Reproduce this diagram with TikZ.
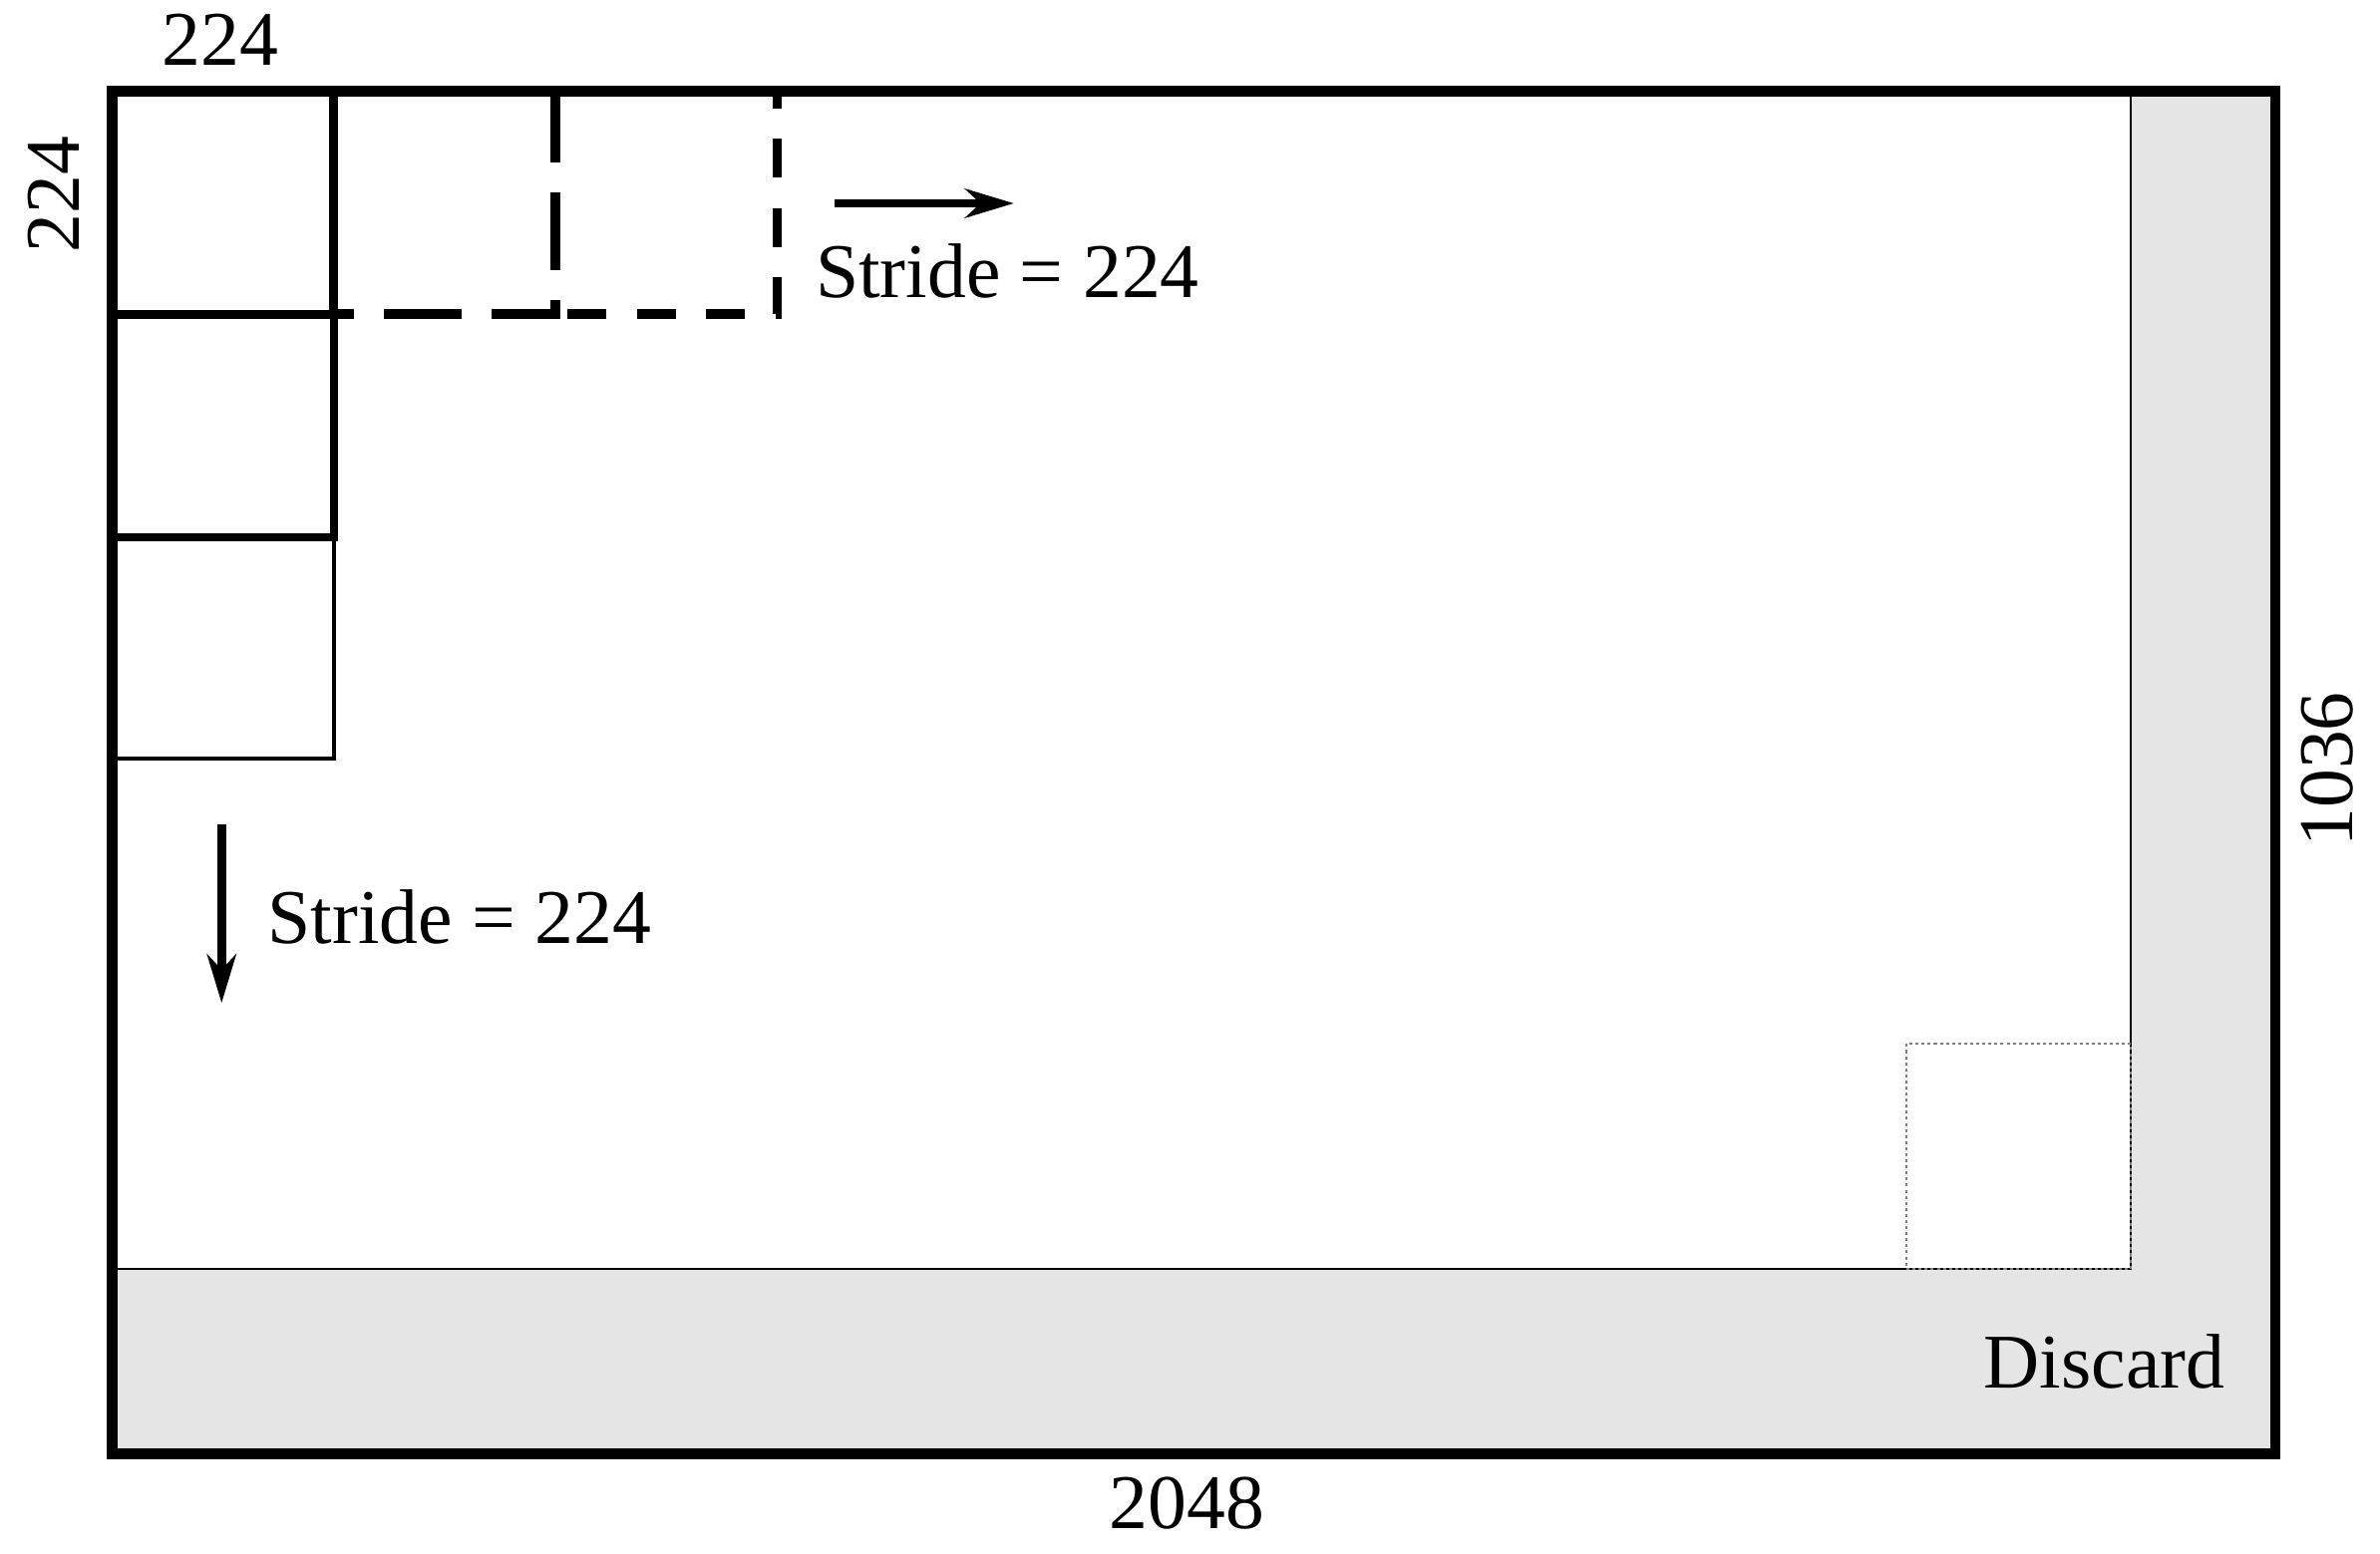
\documentclass[tikz,border=0pt]{standalone}
\usepackage{fontspec}
\setmainfont{Liberation Serif}
\usetikzlibrary{arrows.meta}
\definecolor{discardgray}{HTML}{E5E5E5}
\tikzset{
  lbl/.style={font=\fontsize{25.5pt}{30pt}\selectfont, inner sep=0pt},
  outerline/.style={line width=3.6pt},
  boxA/.style={line width=3pt},
  boxB/.style={line width=2.5pt},
  boxC/.style={line width=1.4pt},
  dashA/.style={line width=3.2pt, dash pattern=on 25.5pt off 10pt, dash phase=19pt},
  dashB/.style={line width=3.2pt, dash pattern=on 12.8pt off 10pt, dash phase=18.8pt},
  thinline/.style={line width=0.6pt},
  dotbox/.style={line width=0.7pt, draw=gray, dash pattern=on 1pt off 1pt},
  stridearrow/.style={line width=2.9pt, -{Stealth[length=16pt, width=9.5pt, inset=5pt]}}
}
\begin{document}
\begin{tikzpicture}[x=0.5pt, y=-0.5pt]
\useasboundingbox (0,0) rectangle (1568,1024);
% discard region
\fill[discardgray] (74,60) rectangle (1499,958);
\fill[white] (74,60) rectangle (1404,836);
\draw[thinline] (1404,60) -- (1404,836) -- (74,836);
% dotted last window
\draw[dotbox] (1256,688) rectangle (1404,836);
% windows
\draw[boxC] (74,354) rectangle (220,500);
\draw[boxB] (74,207) rectangle (220,354);
\draw[boxA] (74,60) rectangle (220,207);
\draw[dashA] (220,207) -- (366,207) -- (366,60);
\draw[dashB] (366,207) -- (512,207) -- (512,60);
% outer frame
\draw[outerline] (74,60) rectangle (1499,958);
% arrows
\coordinate (ra) at (550,134);
\coordinate (rb) at (668,134);
\draw[stridearrow] (ra) -- (rb);
\coordinate (da) at (146,543);
\coordinate (db) at (146,661);
\draw[stridearrow] (da) -- (db);
% labels
\node[lbl, anchor=base west] (strideh) at (537,196) {Stride = 224};
\node[lbl, anchor=base west] (stridev) at (176,622) {Stride = 224};
\node[lbl, anchor=base] (wtop) at (145,43) {224};
\node[lbl, rotate=90, anchor=base] (wleft) at (52,128) {224};
\node[lbl, rotate=90, anchor=base] (hright) at (1550,507) {1036};
\node[lbl, anchor=base] (wbottom) at (782,1007) {2048};
\node[lbl, anchor=base east] (discard) at (1466,915) {Discard};
\end{tikzpicture}
\end{document}
